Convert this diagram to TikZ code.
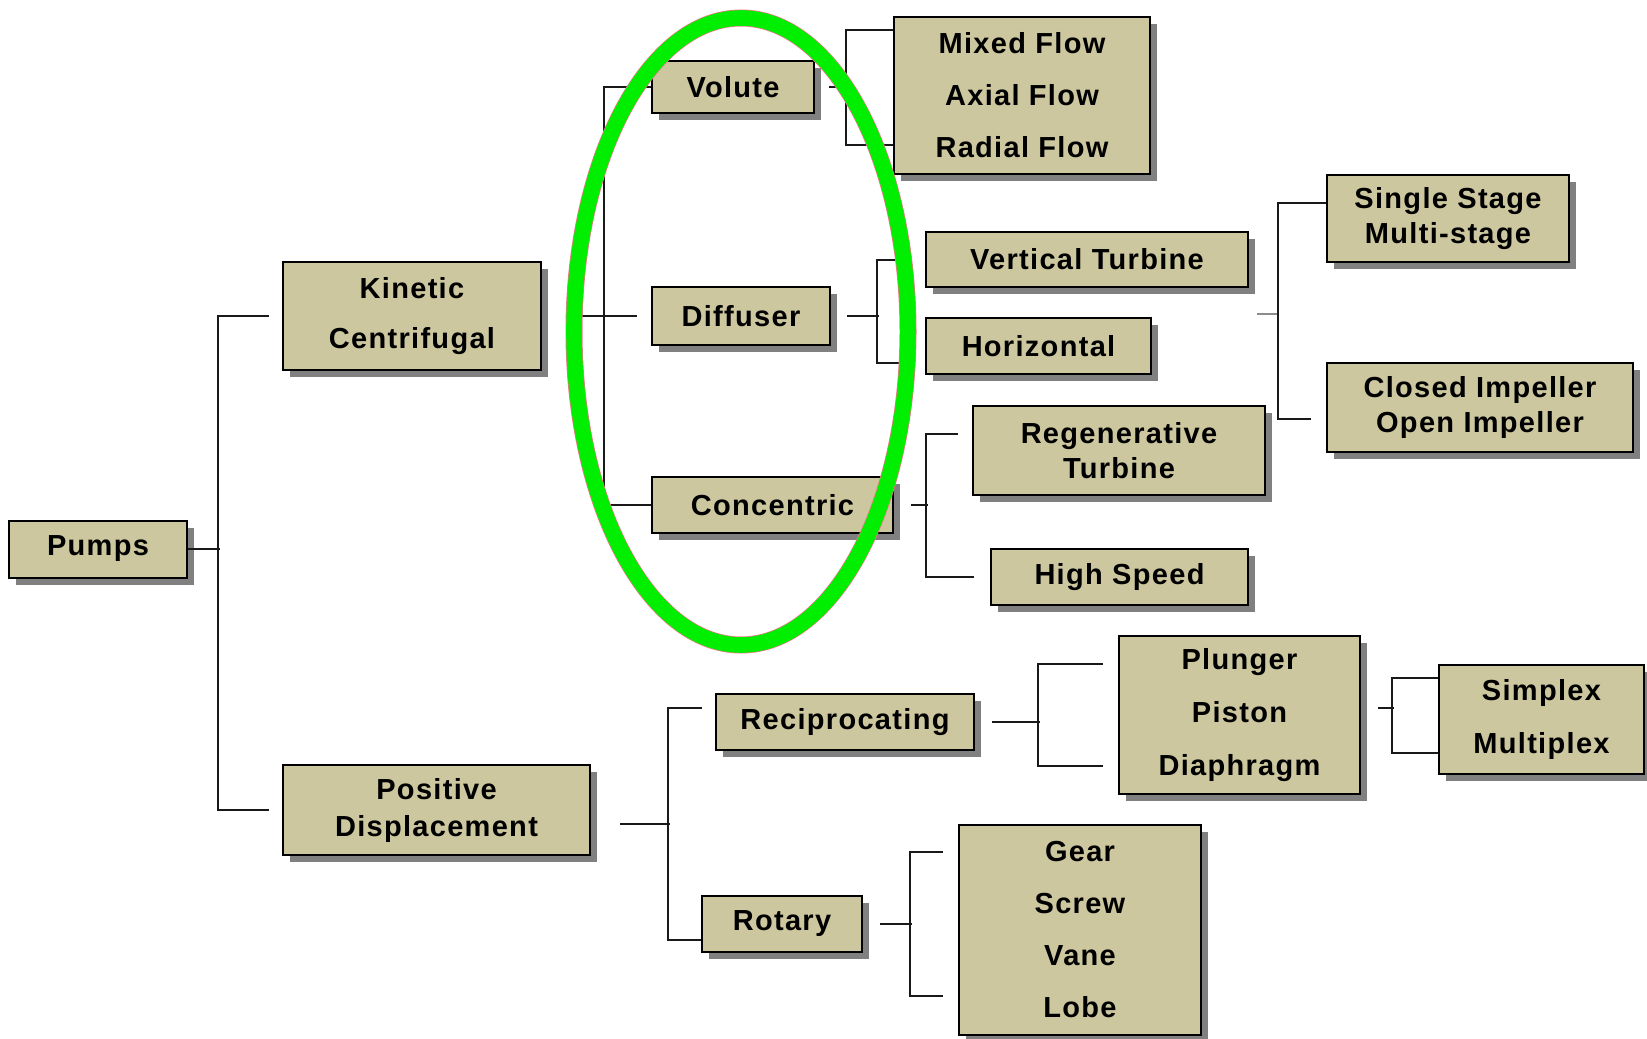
\documentclass[tikz,border=0pt]{standalone}
\usepackage{fontspec}
\setmainfont{Liberation Sans}[LetterSpace=4.5]
\usetikzlibrary{shadows}
\definecolor{tan}{RGB}{204,199,158}
\definecolor{shd}{RGB}{128,128,128}
\definecolor{grn}{RGB}{0,238,0}
\definecolor{pnk}{RGB}{245,120,140}
\tikzset{
  box/.style={draw=black, line width=2pt, fill=tan, inner sep=0pt, align=center,
    font=\fontsize{29}{35}\selectfont\bfseries,
    drop shadow={shadow xshift=7pt, shadow yshift=-7pt, fill=shd, opacity=1}},
  con/.style={draw=black!90, line width=2pt},
  fcon/.style={draw=black!45, line width=1.5pt}
}
\begin{document}
\begin{tikzpicture}[x=1pt,y=-1pt]
\fill[white] (0,0) rectangle (1647,1039);
\useasboundingbox (0,0) rectangle (1647,1039);

% nodes
\node[box, minimum width=178pt, minimum height=57pt] (pumps) at (98,549) {Pumps};
\node[box, minimum width=258pt, minimum height=108pt] (kin) at (412,316) {Kinetic\\[15pt]Centrifugal};
\node[box, minimum width=307pt, minimum height=90pt] (pd) at (436.5,810) {Positive\\[2pt]Displacement};
\node[box, minimum width=162pt, minimum height=52pt] (vol) at (733,87) {Volute};
\node[box, minimum width=178pt, minimum height=58pt] (dif) at (741,316) {Diffuser};
\node[box, minimum width=241pt, minimum height=56pt] (con) at (772.5,505) {Concentric};
\node[box, minimum width=256pt, minimum height=157pt] (mix) at (1022,95.5) {Mixed Flow\\[17pt]Axial Flow\\[17pt]Radial Flow};
\node[box, minimum width=322pt, minimum height=55pt] (vt) at (1087,259.5) {Vertical Turbine};
\node[box, minimum width=225pt, minimum height=56pt] (hor) at (1038.5,346) {Horizontal};
\node[box, minimum width=292pt, minimum height=89pt] (reg) at (1119,450.5) {Regenerative\\Turbine};
\node[box, minimum width=257pt, minimum height=56pt] (hs) at (1119.5,577) {High Speed};
\node[box, minimum width=242pt, minimum height=87pt] (ss) at (1448,218.5) {Single Stage\\Multi-stage};
\node[box, minimum width=306pt, minimum height=89pt] (ci) at (1480,407.5) {Closed Impeller\\Open Impeller};
\node[box, minimum width=258pt, minimum height=56pt] (rec) at (845,722) {Reciprocating};
\node[box, minimum width=160pt, minimum height=56pt] (rot) at (782,924) {Rotary};
\node[box, minimum width=241pt, minimum height=158pt] (plu) at (1239.5,715) {Plunger\\[18pt]Piston\\[18pt]Diaphragm};
\node[box, minimum width=205pt, minimum height=109pt] (sim) at (1541.5,719.5) {Simplex\\[18pt]Multiplex};
\node[box, minimum width=242pt, minimum height=210pt] (gea) at (1080,929.5) {Gear\\[17pt]Screw\\[17pt]Vane\\[17pt]Lobe};

% connectors
\draw[con] (pumps.east) -- ++(32,0);
\draw[con] ([xshift=-13pt]kin.west) -| ([xshift=-64pt]pd.west) -- ([xshift=-13pt]pd.west);

\draw[con] ([xshift=40pt]kin.east) -- ([xshift=-14pt]dif.west);
\draw[con] (vol.west) -| ([xshift=-47pt]con.west) -- (con.west);

\draw[con] ([xshift=14pt]vol.east) -- ++(19,0);
\draw[con] ([yshift=65.5pt]mix.west) -| ([xshift=-47pt,yshift=-49.5pt]mix.west) -- ([yshift=-49.5pt]mix.west);

\draw[con] ([xshift=16pt]dif.east) -- ++(32,0);
\draw[con] ([xshift=-24pt]vt.west) -| ([xshift=-48pt,yshift=-17pt]hor.west) -- ([xshift=-24pt,yshift=-17pt]hor.west);

\draw[con] ([xshift=17pt]con.east) -- ++(17,0);
\draw[con] ([xshift=-14pt,yshift=16.5pt]reg.west) -| ([xshift=-64pt]hs.west) -- ([xshift=-16pt]hs.west);

\coordinate (gs) at (1257,314);
\draw[fcon] (gs) -- ++(22,0);
\draw[con] ([yshift=15.5pt]ss.west) -| ([xshift=-48pt,yshift=-11.5pt]ci.west) -- ([xshift=-15pt,yshift=-11.5pt]ci.west);

\draw[con] ([xshift=29pt,yshift=-14pt]pd.east) -- ++(50,0);
\draw[con] ([xshift=-13pt,yshift=14pt]rec.west) -| ([xshift=-33pt,yshift=-16pt]rot.west) -- ([yshift=-16pt]rot.west);

\draw[con] ([xshift=17pt]rec.east) -- ++(48,0);
\draw[con] ([xshift=-15pt,yshift=51pt]plu.west) -| ([xshift=-80pt,yshift=-51pt]plu.west) -- ([xshift=-15pt,yshift=-51pt]plu.west);

\draw[con] ([xshift=17pt,yshift=7pt]plu.east) -- ++(16,0);
\draw[con] ([yshift=41.5pt]sim.west) -| ([xshift=-46pt,yshift=-33.5pt]sim.west) -- ([yshift=-33.5pt]sim.west);

\draw[con] ([xshift=17pt]rot.east) -- ++(32,0);
\draw[con] ([xshift=-15pt,yshift=77.5pt]gea.west) -| ([xshift=-48pt,yshift=-66.5pt]gea.west) -- ([xshift=-15pt,yshift=-66.5pt]gea.west);

% highlight ellipse
\draw[pnk, line width=17pt] (741,331.5) ellipse [x radius=167pt, y radius=313.5pt];
\draw[grn, line width=15.6pt] (741,331.5) ellipse [x radius=167pt, y radius=313.5pt];
\end{tikzpicture}
\end{document}
